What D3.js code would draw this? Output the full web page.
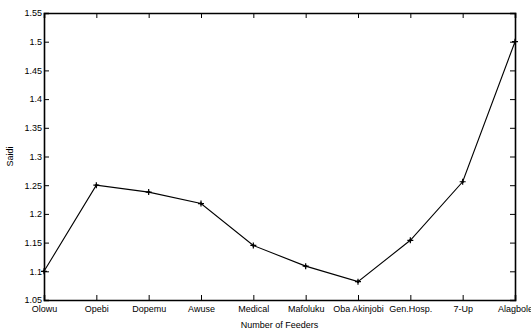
<!DOCTYPE html>
<html><head><meta charset="utf-8">
<script src="https://cdn.jsdelivr.net/npm/d3@7"></script>
<style>
body{margin:0;background:#fff;}
text{font-family:"Liberation Sans",Arial,sans-serif;fill:#000;}
</style></head>
<body>
<svg id="c" width="531" height="331"></svg>
<script>
const feeders = ["Olowu","Opebi","Dopemu","Awuse","Medical","Mafoluku","Oba Akinjobi","Gen.Hosp.","7-Up","Alagbole"];
const saidi = [1.100, 1.250, 1.238, 1.218, 1.145, 1.109, 1.082, 1.154, 1.256, 1.500];
const yTicks = [1.05,1.1,1.15,1.2,1.25,1.3,1.35,1.4,1.45,1.5,1.55];
const yTickLabels = ["1.05","1.1","1.15","1.2","1.25","1.3","1.35","1.4","1.45","1.5","1.55"];

const svg = d3.select("#c");
const L=44, R=515, T=13, B=300;
const x = d3.scalePoint().domain(feeders).range([L,R]);
const y = d3.scaleLinear().domain([1.05,1.55]).range([B,T]);
const tl = 5;

// bottom axis
const xb = svg.append("g").attr("transform",`translate(0,${B})`)
  .call(d3.axisBottom(x).tickSize(-tl).tickPadding(5));
xb.selectAll("text").attr("font-size",9).attr("dy","0.75em");
// top axis
svg.append("g").attr("transform",`translate(0,${T})`)
  .call(d3.axisTop(x).tickSize(-tl).tickFormat(""));
// left axis
const yl = svg.append("g").attr("transform",`translate(${L},0)`)
  .call(d3.axisLeft(y).tickValues(yTicks).tickSize(-tl).tickPadding(2)
    .tickFormat((d,i)=>yTickLabels[i]));
yl.selectAll("text").attr("font-size",9);
// right axis
svg.append("g").attr("transform",`translate(${R},0)`)
  .call(d3.axisRight(y).tickValues(yTicks).tickSize(-tl).tickFormat(""));

svg.selectAll(".domain").attr("stroke","#000").attr("stroke-width",1.6);
svg.selectAll(".tick line").attr("stroke","#000").attr("stroke-width",1);

// line
svg.append("path").datum(saidi)
  .attr("fill","none").attr("stroke","#000").attr("stroke-width",1.1)
  .attr("d", d3.line().x((d,i)=>x(feeders[i])).y(d=>y(d)));

// markers
const m = svg.append("g").selectAll("g").data(saidi).join("g")
  .attr("transform",(d,i)=>`translate(${x(feeders[i])},${y(d)})`);
m.append("path").attr("d","M-3,0H3M0,-3V3").attr("stroke","#000").attr("stroke-width",1.2);
m.append("circle").attr("r",1.3).attr("fill","#000");

// labels
svg.append("text").attr("x",(L+R)/2).attr("y",328).attr("text-anchor","middle")
  .attr("font-size",9).text("Number of Feeders");
svg.append("text").attr("transform",`translate(13,${(T+B)/2}) rotate(-90)`)
  .attr("text-anchor","middle").attr("font-size",9).text("Saidi");
</script>
</body></html>
